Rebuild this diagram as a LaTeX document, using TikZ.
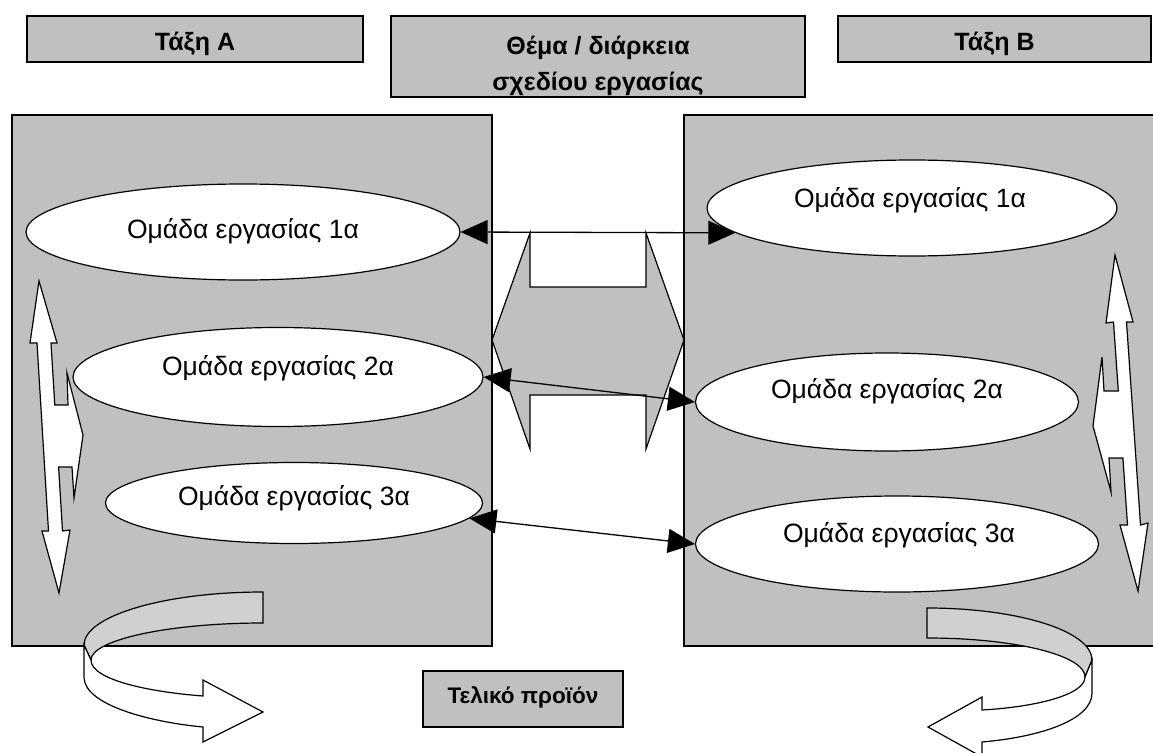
\documentclass[tikz,border=0pt]{standalone}
\usepackage{fontspec}
\setmainfont{Liberation Sans}
\usepackage{tikz}
\usetikzlibrary{arrows.meta,shapes.geometric,positioning}
\definecolor{panelgrey}{RGB}{192,192,192}
\definecolor{bandgrey}{RGB}{208,208,208}
\tikzstyle{panel} = [draw, line width=1.2pt, fill=panelgrey]
\tikzstyle{titlebox} = [draw, line width=1.5pt, fill=panelgrey, inner sep=0pt]
\tikzstyle{titletext} = [font=\fontsize{25}{36}\selectfont\bfseries, align=center, inner sep=0pt]
\tikzstyle{teambox} = [draw, ellipse, line width=1.2pt, fill=white, inner sep=0pt]
\tikzstyle{teamtext} = [font=\fontsize{26.5}{30}\selectfont, anchor=base, inner sep=0pt]
\tikzstyle{link} = [line width=1.3pt, {Triangle[length=27pt,width=24pt]}-{Triangle[length=27pt,width=24pt]}]
\tikzstyle{flowarrow} = [draw, line width=1.2pt, fill=white]

\begin{document}
\begin{tikzpicture}[x=1pt, y=-1pt]
\useasboundingbox (0,0) rectangle (1153,752);

% Class panels
\draw[panel] (12,115) rectangle (492,646);
\draw[panel] (684,115) rectangle (1160,646);

% Exchange between the two classes
\draw[panel] (492,340) -- (530,233) -- (530,287) -- (646,287) -- (646,233) -- (684,340)
  -- (646,449) -- (646,395) -- (530,395) -- (530,449) -- cycle;

% Moving inside each class
\draw[flowarrow] (39,281) -- (57,343) -- (51,343) -- (54.8,405) -- (68,405) -- (67,373)
  -- (83,435) -- (74,498) -- (72,467) -- (58.6,467) -- (62.5,531) -- (70,530) -- (59,593)
  -- (42,531) -- (48.5,531) -- (37,343) -- (30,343) -- cycle;
\draw[flowarrow] (1115,255) -- (1133,322) -- (1126.5,322) -- (1140.5,525) -- (1148,523)
  -- (1138,591) -- (1120,525) -- (1127.5,525) -- (1122.9,458) -- (1109,458) -- (1111,492)
  -- (1093,426) -- (1102,357) -- (1104,391) -- (1118.3,391) -- (1113.5,322) -- (1106,323) -- cycle;

% Work groups
\node[teambox, minimum width=434pt, minimum height=96pt] (l1) at (243,232) {};
\node[teambox, minimum width=410pt, minimum height=99pt] (l2) at (278,377) {};
\node[teambox, minimum width=377pt, minimum height=81pt] (l3) at (294,503) {};
\node[teambox, minimum width=410pt, minimum height=96pt] (r1) at (912,208) {};
\node[teambox, minimum width=383pt, minimum height=98pt] (r2) at (887,402) {};
\node[teambox, minimum width=403pt, minimum height=96pt] (r3) at (897,544) {};

% Labels
\node[teamtext, yshift=-6pt] (l1t) at (l1.center) {Ομάδα εργασίας 1α};
\node[teamtext, yshift=2pt] (l2t) at (l2.center) {Ομάδα εργασίας 2α};
\node[teamtext, yshift=-2pt] (l3t) at (l3.center) {Ομάδα εργασίας 3α};
\node[teamtext, xshift=-2pt, yshift=1pt] (r1t) at (r1.center) {Ομάδα εργασίας 1α};
\node[teamtext, yshift=4pt] (r2t) at (r2.center) {Ομάδα εργασίας 2α};
\node[teamtext, xshift=2pt, yshift=2pt] (r3t) at (r3.center) {Ομάδα εργασίας 3α};

% Links between the groups
\draw[link] (l1.east) -- (r1.188);
\draw[link] (l2.east) -- (r2.west);
\draw[link] (l3.355) -- (r3.west);

% Headers
\node[titlebox, minimum width=336pt, minimum height=46pt] (ta) at (195,39) {};
\node[titletext, anchor=base, yshift=-12pt] (tat) at (ta.center) {Τάξη A};
\node[titlebox, minimum width=414pt, minimum height=81pt] (th) at (598,56.5) {};
\node[titletext, anchor=north] (tht) at ([yshift=-21pt]th.north) {Θέμα / διάρκεια\\σχεδίου εργασίας};
\node[titlebox, minimum width=313pt, minimum height=46pt] (tb) at (994.5,39) {};
\node[titletext, anchor=base, yshift=-12pt] (tbt) at (tb.center) {Τάξη B};

% Final product
\node[titlebox, minimum width=200pt, minimum height=56pt] (tp) at (523,699) {};
\node[titletext, font=\fontsize{22.5}{27}\selectfont\bfseries, anchor=base, yshift=-4pt] (tpt) at (tp.center) {Τελικό προϊόν};

% U-turn arrows
\draw[flowarrow, fill=bandgrey] (263,592) .. controls (164,592) and (84,616) .. (84,645)
  -- (91,660) .. controls (91,640) and (168,623) .. (263,623) -- cycle;
\draw[flowarrow] (84,645) -- (84,677) .. controls (84,705) and (150,722) .. (203,727)
  -- (203,742) -- (263,712) -- (203,680) -- (203,696) .. controls (150,692) and (91,680) .. (91,660) -- cycle;
\draw[flowarrow, fill=bandgrey] (927,608) .. controls (1018,608) and (1092,631) .. (1092,660)
  -- (1085,677) .. controls (1085,655) and (1014,638) .. (927,638) -- cycle;
\draw[flowarrow] (1092,660) -- (1092,693) .. controls (1092,720) and (1040,737) .. (982,742)
  -- (982,757) -- (928,727) -- (982,697) -- (982,710) .. controls (1035,707) and (1085,695) .. (1085,677) -- cycle;
\end{tikzpicture}
\end{document}
